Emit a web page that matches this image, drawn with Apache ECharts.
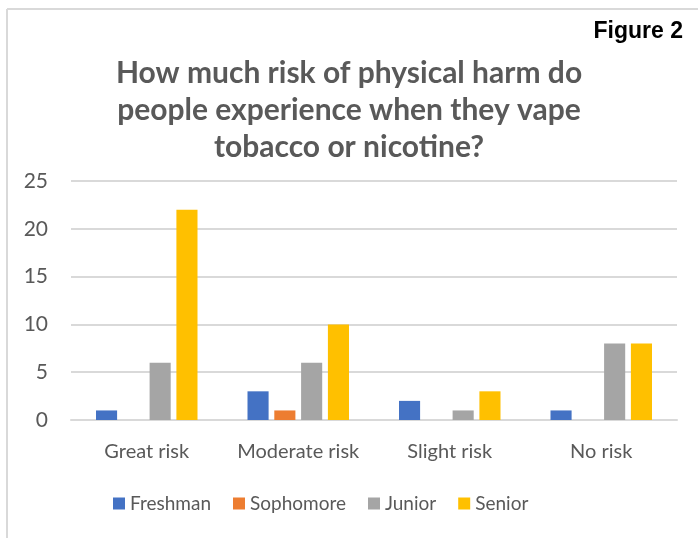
<!DOCTYPE html>
<html>
<head>
<meta charset="utf-8">
<script src="https://cdn.jsdelivr.net/npm/echarts@6/dist/echarts.min.js"></script>
<style>html,body{margin:0;padding:0;background:#fff;}#c{width:698px;height:538px;}</style>
</head>
<body>
<div id="c"></div>
<script>
const categories = ['Great risk', 'Moderate risk', 'Slight risk', 'No risk'];
const seriesNames = ['Freshman', 'Sophomore', 'Junior', 'Senior'];
const freshman = [1, 3, 2, 1];
const sophomore = [0, 1, 0, 0];
const junior = [6, 6, 1, 8];
const senior = [22, 10, 3, 8];
const yTicks = { min: 0, max: 25, interval: 5 };
const colors = ['#4472C4', '#ED7D31', '#A5A5A5', '#FFC000'];
const values = [freshman, sophomore, junior, senior];

const chart = echarts.init(document.getElementById('c'), null, { renderer: 'canvas' });
const font = 'Lato, "Open Sans", sans-serif';
chart.setOption({
  animation: false,
  backgroundColor: '#fff',
  title: {
    text: 'How much risk of physical harm do\npeople experience when they vape\ntobacco or nicotine?',
    left: 344, textAlign: 'center', top: 50,
    textStyle: { fontFamily: font, fontWeight: 'bold', fontSize: 30, lineHeight: 37, color: '#595959' }
  },
  graphic: [
    { type: 'line', shape: { x1: 7, y1: 9, x2: 698, y2: 9 }, style: { stroke: '#D9D9D9', lineWidth: 2 } },
    { type: 'line', shape: { x1: 7, y1: 9, x2: 7, y2: 538 }, style: { stroke: '#D9D9D9', lineWidth: 2 } },
    { type: 'text', right: 15, top: 20, style: { text: 'Figure 2', font: 'bold 23px "Liberation Sans", Arial, sans-serif', fill: '#000' } }
  ],
  legend: {
    data: seriesNames, top: 489, left: 108,
    icon: 'rect', itemWidth: 12, itemHeight: 12, itemGap: 22,
    textStyle: { fontFamily: font, fontSize: 19, color: '#595959' }
  },
  grid: { left: 71, right: 21, top: 181, bottom: 118, containLabel: false },
  xAxis: {
    type: 'category', data: categories,
    axisLine: { show: true, lineStyle: { color: '#D9D9D9', width: 2 } },
    axisTick: { show: false },
    axisLabel: { interval: 0, fontFamily: font, fontSize: 20, color: '#595959', margin: 22 }
  },
  yAxis: {
    type: 'value', min: yTicks.min, max: yTicks.max, interval: yTicks.interval,
    axisLine: { show: false }, axisTick: { show: false },
    splitLine: { lineStyle: { color: '#D9D9D9', width: 2 } },
    axisLabel: { fontFamily: font, fontSize: 21, color: '#595959', margin: 23 }
  },
  series: seriesNames.map((n, i) => ({
    name: n, type: 'bar', data: values[i],
    itemStyle: { color: colors[i] },
    barGap: '27%', barCategoryGap: '33%'
  }))
});
</script>
</body>
</html>
